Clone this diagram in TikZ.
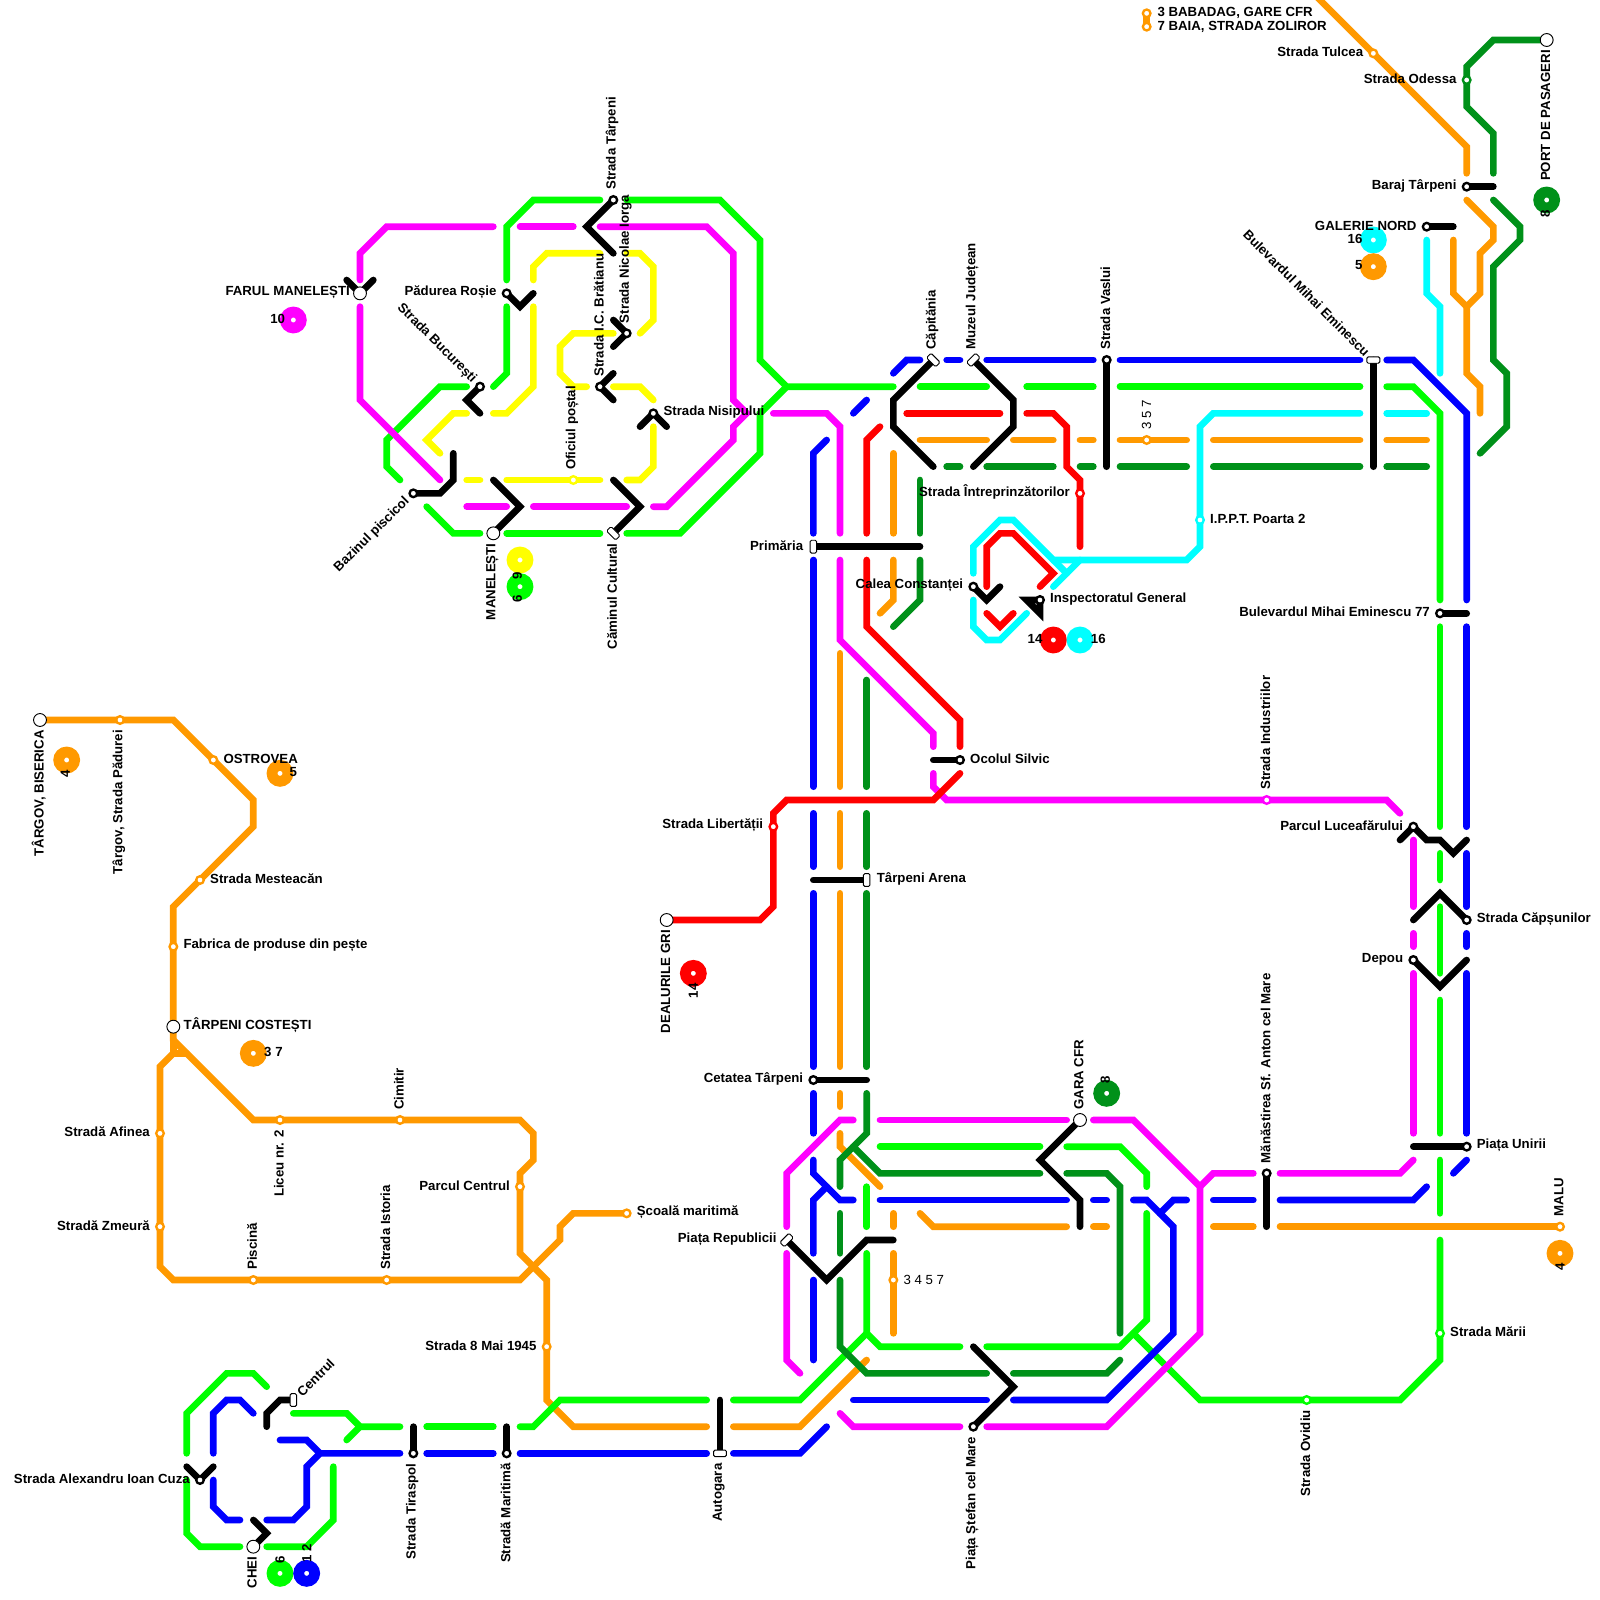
\documentclass[tikz,border=0pt]{standalone}
\usepackage{fontspec}
\setmainfont{Liberation Sans}
\usetikzlibrary{positioning}
\definecolor{lineOrange}{RGB}{255, 153, 0}
\definecolor{lineGreen}{RGB}{0, 255, 0}
\definecolor{lineForest}{RGB}{0, 145, 25}
\definecolor{lineMagenta}{RGB}{255, 0, 255}
\definecolor{lineCyan}{RGB}{0, 255, 255}
\definecolor{lineYellow}{RGB}{255, 255, 0}
\definecolor{lineBlue}{RGB}{0, 0, 255}
\definecolor{lineRed}{RGB}{255, 0, 0}
\pgfdeclarelayer{lines}
\pgfsetlayers{lines,main}

\begin{document}
\begin{tikzpicture}[
    x=0.4cm, y=-0.4cm,
    route/.style={line width=5.7pt, line cap=round, line join=miter, draw=#1},
    link/.style={route=black},
    stop/.style={circle, draw=#1, fill=white, line width=2pt, inner sep=0pt, minimum size=6.5pt},
    terminus/.style={circle, draw=black, fill=white, line width=0.8pt, inner sep=0pt, minimum size=11pt},
    gate/.style={rectangle, draw=black, fill=white, line width=0.8pt, rounded corners=1.2pt, inner sep=0pt, minimum width=11pt, minimum height=5.5pt},
    disc/.style={circle, draw=#1, fill=white, line width=9.2pt, inner sep=0pt, minimum size=13.6pt},
    txt/.style={font=\fontsize{11.3}{12.5}\selectfont\bfseries, inner sep=0pt, text=black},
    txtL/.style={txt, left=8.5pt of #1.center, yshift=1pt},
    txtR/.style={txt, right=8.5pt of #1.center, yshift=1pt},
    txtU/.style={txt, above=8.5pt of #1.center, anchor=west, xshift=-1pt, rotate=90},
    txtD/.style={txt, below=8.5pt of #1.center, anchor=east, xshift=-1pt, rotate=90},
    num/.style={txt, rotate=90},
    plain/.style={font=\fontsize{11.3}{12.5}\selectfont, inner sep=0pt}
]
\useasboundingbox (0,0) rectangle (120,120);

% Stations
\node[stop=lineOrange] (legendA) at (86,1) {};
\node[stop=lineOrange] (legendB) at (86,2) {};
\node[stop=lineOrange] (tulcea) at (103,4) {};
\node[stop=lineForest] (odessa) at (110,6) {};
\node[terminus] (portPas) at (116,3) {};
\node[stop=black] (baraj) at (110,14) {};
\node[stop=black] (galerie) at (107,17) {};
\node[gate] (bdEminescu) at (103,27) {};
\node[stop=black] (vaslui) at (83,27) {};
\node[gate, rotate=-45] (capitania) at (70,27) {};
\node[gate, rotate=45] (muzeul) at (73,27) {};
\node[stop=lineOrange] (stop357) at (86,33) {};
\node[stop=lineRed] (intrep) at (81,37) {};
\node[stop=lineCyan] (ippt) at (90,39) {};
\node[gate, rotate=90] (primaria) at (61,41) {};
\node[stop=black] (calea) at (73,44) {};
\node[stop=black] (inspect) at (78,45) {};
\node[stop=black] (em77) at (108,46) {};
\node[stop=black] (ocolul) at (72,57) {};
\node[stop=lineMagenta] (industrii) at (95,60) {};
\node[stop=black] (luceaf) at (106,62) {};
\node[stop=lineRed] (libertatii) at (58,62) {};
\node[gate, rotate=90] (arena) at (65,66) {};
\node[stop=black] (capsuni) at (110,69) {};
\node[terminus] (dealuri) at (50,69) {};
\node[stop=black] (depou) at (106,72) {};
\node[stop=black] (cetatea) at (61,81) {};
\node[terminus] (gara) at (81,84) {};
\node[stop=black] (unirii) at (110,86) {};
\node[stop=black] (manast) at (95,88) {};
\node[stop=lineOrange] (malu) at (117,92) {};
\node[gate, rotate=45] (republicii) at (59,93) {};
\node[stop=lineOrange] (stop3457) at (67,96) {};
\node[stop=lineGreen] (marii) at (108,100) {};
\node[stop=lineGreen] (ovidiu) at (98,105) {};
\node[stop=black] (stefan) at (73,107) {};
\node[gate] (autogara) at (54,109) {};
% north-west group
\node[stop=black] (tarpeni) at (46,15) {};
\node[terminus] (farul) at (27,22) {};
\node[stop=black] (padurea) at (38,22) {};
\node[stop=black] (iorga) at (47,25) {};
\node[stop=black] (bucuresti) at (36,29) {};
\node[stop=black] (bratianu) at (45,29) {};
\node[stop=black] (nisipului) at (49,31) {};
\node[stop=lineYellow] (oficiul) at (43,36) {};
\node[stop=black] (bazin) at (31,37) {};
\node[terminus] (manelesti) at (37,40) {};
\node[gate, rotate=-45] (caminul) at (46,40) {};
% west group
\node[terminus] (targov) at (3,54) {};
\node[stop=lineOrange] (padurei) at (9,54) {};
\node[stop=lineOrange] (ostrovea) at (16,57) {};
\node[stop=lineOrange] (mesteacan) at (15,66) {};
\node[stop=lineOrange] (fabrica) at (13,71) {};
\node[terminus] (costesti) at (13,77) {};
\node[stop=lineOrange] (liceu) at (21,84) {};
\node[stop=lineOrange] (cimitir) at (30,84) {};
\node[stop=lineOrange] (afinea) at (12,85) {};
\node[stop=lineOrange] (parcul) at (39,89) {};
\node[stop=lineOrange] (scoala) at (47,91) {};
\node[stop=lineOrange] (zmeura) at (12,92) {};
\node[stop=lineOrange] (piscina) at (19,96) {};
\node[stop=lineOrange] (istoria) at (29,96) {};
\node[stop=lineOrange] (mai1945) at (41,101) {};
% south-west group
\node[gate, rotate=90] (centrul) at (22,105) {};
\node[stop=black] (tiraspol) at (31,109) {};
\node[stop=black] (maritima) at (38,109) {};
\node[stop=black] (cuza) at (15,111) {};
\node[terminus] (chei) at (19,116) {};

% Line discs
\node[disc=lineMagenta] (disc10) at (22,24) {};
\node[disc=lineYellow] (disc9) at (39,42) {};
\node[disc=lineGreen] (disc6a) at (39,44) {};
\node[disc=lineForest] (disc8a) at (116,15) {};
\node[disc=lineCyan] (disc16a) at (103,18) {};
\node[disc=lineOrange] (disc5a) at (103,20) {};
\node[disc=lineRed] (disc14a) at (79,48) {};
\node[disc=lineCyan] (disc16b) at (81,48) {};
\node[disc=lineOrange] (disc4a) at (5,57) {};
\node[disc=lineOrange] (disc5b) at (21,58) {};
\node[disc=lineOrange] (disc37) at (19,79) {};
\node[disc=lineRed] (disc14b) at (52,73) {};
\node[disc=lineForest] (disc8b) at (83,82) {};
\node[disc=lineOrange] (disc4b) at (117,94) {};
\node[disc=lineGreen] (disc6b) at (21,118) {};
\node[disc=lineBlue] (disc12) at (23,118) {};

% Labels
\node[txt, anchor=west] (tLegA) at (86.8,1) {3 BABADAG, GARE CFR};
\node[txt, anchor=west] (tLegB) at (86.8,2) {7 BAIA, STRADA ZOLIROR};
\node[txtL=tulcea] (tTulcea) {Strada Tulcea};
\node[txtL=odessa] (tOdessa) {Strada Odessa};
\node[txtD=portPas] (tPort) {PORT DE PASAGERI};
\node[txtL=baraj] (tBaraj) {Baraj Târpeni};
\node[txtL=galerie] (tGalerie) {GALERIE NORD};
\node[txtU=vaslui] (tVaslui) {Strada Vaslui};
\node[txtU=capitania] (tCapitania) {Căpitănia};
\node[txtU=muzeul] (tMuzeul) {Muzeul Județean};
\node[plain, above=8.5pt of stop357.center, anchor=west, rotate=90] (t357) {3 5 7};
\node[txtL=intrep] (tIntrep) {Strada Întreprinzătorilor};
\node[txtR=ippt] (tIppt) {I.P.P.T. Poarta 2};
\node[txtL=primaria] (tPrimaria) {Primăria};
\node[txtL=calea] (tCalea) {Calea Constanței};
\node[txtR=inspect] (tInspect) {Inspectoratul General};
\node[txtL=em77] (tEm77) {Bulevardul Mihai Eminescu 77};
\node[txtR=ocolul] (tOcolul) {Ocolul Silvic};
\node[txtU=industrii] (tIndustrii) {Strada Industriilor};
\node[txtL=luceaf] (tLuceaf) {Parcul Luceafărului};
\node[txtL=libertatii] (tLibertatii) {Strada Libertății};
\node[txtR=arena] (tArena) {Târpeni Arena};
\node[txtR=capsuni] (tCapsuni) {Strada Căpșunilor};
\node[txtD=dealuri] (tDealuri) {DEALURILE GRI};
\node[txtL=depou] (tDepou) {Depou};
\node[txtL=cetatea] (tCetatea) {Cetatea Târpeni};
\node[txtU=gara] (tGara) {GARA CFR};
\node[txtR=unirii] (tUnirii) {Piața Unirii};
\node[txtU=manast] (tManast) {Mănăstirea Sf. Anton cel Mare};
\node[txtU=malu] (tMalu) {MALU};
\node[txtL=republicii] (tRepublicii) {Piața Republicii};
\node[plain, right=8.5pt of stop3457.center] (t3457) {3 4 5 7};
\node[txtR=marii] (tMarii) {Strada Mării};
\node[txtD=ovidiu] (tOvidiu) {Strada Ovidiu};
\node[txtD=stefan] (tStefan) {Piața Ștefan cel Mare};
\node[txtD=autogara] (tAutogara) {Autogara};
\node[txtU=tarpeni] (tTarpeni) {Strada Târpeni};
\node[txtL=farul] (tFarul) {FARUL MANELEȘTI};
\node[txtL=padurea] (tPadurea) {Pădurea Roșie};
\node[txtU=iorga] (tIorga) {Strada Nicolae Iorga};
\node[txtU=bratianu] (tBratianu) {Strada I.C. Brătianu};
\node[txtR=nisipului] (tNisipului) {Strada Nisipului};
\node[txtU=oficiul] (tOficiul) {Oficiul poștal};
\node[txtD=manelesti] (tManelesti) {MANELEȘTI};
\node[txtD=caminul] (tCaminul) {Căminul Cultural};
\node[txt, at=(bucuresti.center), xshift=-5pt, yshift=5pt, anchor=east, rotate=-45] (tBucuresti) {Strada București};
\node[txt, at=(bdEminescu.center), xshift=-5pt, yshift=5pt, anchor=east, rotate=-45] (tBdEminescu) {Bulevardul Mihai Eminescu};
\node[txt, at=(bazin.center), xshift=-5pt, yshift=-5pt, anchor=east, rotate=45] (tBazin) {Bazinul piscicol};
\node[txt, at=(centrul.center), xshift=5pt, yshift=5pt, anchor=west, rotate=45] (tCentrul) {Centrul};
\node[txtD=targov] (tTargov) {TÂRGOV, BISERICA};
\node[txtD=padurei] (tPadurei) {Târgov, Strada Pădurei};
\node[txtR=ostrovea] (tOstrovea) {OSTROVEA};
\node[txtR=mesteacan] (tMesteacan) {Strada Mesteacăn};
\node[txtR=fabrica] (tFabrica) {Fabrica de produse din pește};
\node[txtR=costesti] (tCostesti) {TÂRPENI COSTEȘTI};
\node[txtD=liceu] (tLiceu) {Liceu nr. 2};
\node[txtU=cimitir] (tCimitir) {Cimitir};
\node[txtL=afinea] (tAfinea) {Stradă Afinea};
\node[txtL=parcul] (tParcul) {Parcul Centrul};
\node[txtR=scoala] (tScoala) {Școală maritimă};
\node[txtL=zmeura] (tZmeura) {Stradă Zmeură};
\node[txtU=piscina] (tPiscina) {Piscină};
\node[txtU=istoria] (tIstoria) {Strada Istoria};
\node[txtL=mai1945] (tMai) {Strada 8 Mai 1945};
\node[txtD=tiraspol] (tTiraspol) {Strada Tiraspol};
\node[txtD=maritima] (tMaritima) {Stradă Maritimă};
\node[txtL=cuza] (tCuza) {Strada Alexandru Ioan Cuza};
\node[txtD=chei] (tChei) {CHEI};

% Line numbers
\node[txt, anchor=east] (n10) at (21.4,23.9) {10};
\node[num] (n9) at (38.8,43.2) {9};
\node[num] (n6a) at (38.8,44.9) {6};
\node[num] (n8a) at (115.9,16) {8};
\node[txt, anchor=east] (n16a) at (102.2,17.9) {16};
\node[txt, anchor=east] (n5a) at (102.2,19.9) {5};
\node[txt, anchor=east] (n14a) at (78.2,47.9) {14};
\node[txt, anchor=west] (n16b) at (81.8,47.9) {16};
\node[num] (n4a) at (4.9,58) {4};
\node[txt] (n5b) at (22,57.9) {5};
\node[txt, anchor=west] (n37) at (19.8,78.9) {3 7};
\node[num] (n14b) at (52,74.3) {14};
\node[num] (n8b) at (82.9,81) {8};
\node[num] (n4b) at (117,95) {4};
\node[num] (n6b) at (21,117) {6};
\node[num] (n12) at (23,116.5) {1 2};

\begin{pgfonlayer}{lines}
% Orange
\draw[route=lineOrange] (legendA.center) -- (legendB.center);
\draw[route=lineOrange] (98,-1) -- (110,11) -- (110,13);
\draw[route=lineOrange] (110,15) -- (112,17) -- (112,18) -- (111,19) -- (111,22) -- (110,23) -- (109,22) -- (109,18);
\draw[route=lineOrange] (110,23) -- (110,28) -- (111,29) -- (111,31);
\draw[route=lineOrange] (69,33) -- (74,33);
\draw[route=lineOrange] (76,33) -- (79,33);
\draw[route=lineOrange] (81,33) -- (82,33);
\draw[route=lineOrange] (84,33) -- (89,33);
\draw[route=lineOrange] (91,33) -- (102,33);
\draw[route=lineOrange] (104,33) -- (107,33);
\draw[route=lineOrange] (67,34) -- (67,40);
\draw[route=lineOrange] (67,42) -- (67,45) -- (66,46);
\draw[route=lineOrange] (63,49) -- (63,59);
\draw[route=lineOrange] (63,61) -- (63,65);
\draw[route=lineOrange] (63,67) -- (63,80);
\draw[route=lineOrange] (63,82) -- (63,83);
\draw[route=lineOrange] (63,85) -- (63,86) -- (66,89);
\draw[route=lineOrange] (67,91) -- (67,92);
\draw[route=lineOrange] (67,94) -- (67,100);
\draw[route=lineOrange] (69,91) -- (70,92) -- (80,92);
\draw[route=lineOrange] (82,92) -- (83,92);
\draw[route=lineOrange] (91,92) -- (94,92);
\draw[route=lineOrange] (96,92) -- (malu.center);
\draw[route=lineOrange] (targov.center) -- (13,54) -- (19,60) -- (19,62) -- (13,68) -- (13,78) -- (19,84) -- (39,84) -- (40,85) -- (40,87) -- (39,88) -- (39,94) -- (41,96) -- (41,105) -- (43,107) -- (53,107);
\draw[route=lineOrange] (13,78) -- (13,79) -- (14,79);
\draw[route=lineOrange] (13,79) -- (12,80) -- (12,95) -- (13,96) -- (39,96) -- (42,93) -- (42,92) -- (43,91) -- (scoala.center);
\draw[route=lineOrange] (55,107) -- (60,107) -- (65,102);
% Green
\draw[route=lineGreen] (38,21) -- (38,17) -- (40,15) -- (45,15);
\draw[route=lineGreen] (47,15) -- (54,15) -- (57,18) -- (57,27) -- (59,29) -- (67,29);
\draw[route=lineGreen] (59,29) -- (57,31) -- (57,34) -- (51,40) -- (47,40);
\draw[route=lineGreen] (45,40) -- (38,40);
\draw[route=lineGreen] (36,40) -- (34,40) -- (32,38);
\draw[route=lineGreen] (38,23) -- (38,28) -- (37,29);
\draw[route=lineGreen] (35,29) -- (33,29) -- (29,33) -- (29,35) -- (30,36);
\draw[route=lineGreen] (69,29) -- (74,29);
\draw[route=lineGreen] (77,29) -- (82,29);
\draw[route=lineGreen] (84,29) -- (102,29);
\draw[route=lineGreen] (104,29) -- (106,29) -- (108,31) -- (108,45);
\draw[route=lineGreen] (108,47) -- (108,62);
\draw[route=lineGreen] (108,64) -- (108,66);
\draw[route=lineGreen] (108,68) -- (108,73);
\draw[route=lineGreen] (108,75) -- (108,85);
\draw[route=lineGreen] (108,87) -- (108,91);
\draw[route=lineGreen] (108,93) -- (108,102) -- (105,105) -- (90,105) -- (85,100);
\draw[route=lineGreen] (86,91) -- (86,99) -- (84,101) -- (74,101);
\draw[route=lineGreen] (86,89) -- (86,88) -- (84,86) -- (80,86);
\draw[route=lineGreen] (78,86) -- (66,86);
\draw[route=lineGreen] (65,89) -- (65,92);
\draw[route=lineGreen] (65,94) -- (65,100) -- (66,101) -- (72,101);
\draw[route=lineGreen] (65,100) -- (60,105) -- (55,105);
\draw[route=lineGreen] (53,105) -- (42,105) -- (40,107) -- (39,107);
\draw[route=lineGreen] (37,107) -- (32,107);
\draw[route=lineGreen] (30,107) -- (27,107) -- (26,106) -- (22,106);
\draw[route=lineGreen] (27,107) -- (26,108);
\draw[route=lineGreen] (20,104) -- (19,103) -- (17,103) -- (14,106) -- (14,109);
\draw[route=lineGreen] (14,111) -- (14,115) -- (15,116) -- (18,116);
\draw[route=lineGreen] (20,116) -- (23,116) -- (25,114) -- (25,110);
% Forest green
\draw[route=lineForest] (portPas.center) -- (112,3) -- (110,5) -- (110,8) -- (112,10) -- (112,13);
\draw[route=lineForest] (112,15) -- (114,17) -- (114,18) -- (112,20) -- (112,27) -- (113,28) -- (113,32) -- (111,34);
\draw[route=lineForest] (71,35) -- (72,35);
\draw[route=lineForest] (74,35) -- (79,35);
\draw[route=lineForest] (81,35) -- (82,35);
\draw[route=lineForest] (84,35) -- (89,35);
\draw[route=lineForest] (91,35) -- (102,35);
\draw[route=lineForest] (104,35) -- (107,35);
\draw[route=lineForest] (69,36) -- (69,40);
\draw[route=lineForest] (69,42) -- (69,45) -- (67,47);
\draw[route=lineForest] (65,51) -- (65,59);
\draw[route=lineForest] (65,61) -- (65,65);
\draw[route=lineForest] (65,67) -- (65,80);
\draw[route=lineForest] (65,82) -- (65,85) -- (63,87) -- (63,89);
\draw[route=lineForest] (64,86) -- (66,88) -- (78,88);
\draw[route=lineForest] (80,88) -- (83,88) -- (84,89) -- (84,100);
\draw[route=lineForest] (63,91) -- (63,94);
\draw[route=lineForest] (63,96) -- (63,101) -- (65,103) -- (74,103);
\draw[route=lineForest] (76,103) -- (83,103) -- (84,102);
% Yellow
\draw[route=lineYellow] (40,21) -- (40,20) -- (41,19) -- (45,19);
\draw[route=lineYellow] (47,19) -- (48,19) -- (49,20) -- (49,24) -- (48,25);
\draw[route=lineYellow] (40,23) -- (40,29) -- (38,31) -- (37,31);
\draw[route=lineYellow] (35,31) -- (34,31) -- (32,33) -- (33,34);
\draw[route=lineYellow] (46,25) -- (43,25) -- (42,26) -- (42,28) -- (43,29) -- (44,29);
\draw[route=lineYellow] (46,29) -- (48,29) -- (49,30);
\draw[route=lineYellow] (49,32) -- (49,35) -- (48,36) -- (47,36);
\draw[route=lineYellow] (45,36) -- (38,36);
\draw[route=lineYellow] (36,36) -- (35,36);
% Cyan
\draw[route=lineCyan] (107,18) -- (107,22) -- (108,23) -- (108,28);
\draw[route=lineCyan] (104,31) -- (107,31);
\draw[route=lineCyan] (102,31) -- (91,31) -- (90,32) -- (90,41) -- (89,42) -- (79,42) -- (76,39) -- (75,39) -- (73,41) -- (73,43);
\draw[route=lineCyan] (79,42) -- (80,43);
\draw[route=lineCyan] (81,42) -- (79,44);
\draw[route=lineCyan] (73,45) -- (73,47) -- (74,48) -- (75,48) -- (77,46);
% Blue
\draw[route=lineBlue] (64,31) -- (65,30);
\draw[route=lineBlue] (67,28) -- (68,27) -- (69,27);
\draw[route=lineBlue] (71,27) -- (72,27);
\draw[route=lineBlue] (74,27) -- (82,27);
\draw[route=lineBlue] (84,27) -- (102,27);
\draw[route=lineBlue] (104,27) -- (106,27) -- (110,31) -- (110,45);
\draw[route=lineBlue] (110,47) -- (110,62);
\draw[route=lineBlue] (110,64) -- (110,68);
\draw[route=lineBlue] (110,70) -- (110,71);
\draw[route=lineBlue] (110,73) -- (110,85);
\draw[route=lineBlue] (110,87) -- (109,88);
\draw[route=lineBlue] (62,33) -- (61,34) -- (61,40);
\draw[route=lineBlue] (61,42) -- (61,59);
\draw[route=lineBlue] (61,61) -- (61,65);
\draw[route=lineBlue] (61,67) -- (61,80);
\draw[route=lineBlue] (61,82) -- (61,85);
\draw[route=lineBlue] (61,87) -- (61,88) -- (63,90) -- (64,90);
\draw[route=lineBlue] (62,89) -- (61,90) -- (61,94);
\draw[route=lineBlue] (61,96) -- (61,102);
\draw[route=lineBlue] (66,90) -- (80,90);
\draw[route=lineBlue] (82,90) -- (83,90);
\draw[route=lineBlue] (85,90) -- (86,90) -- (88,92) -- (88,100) -- (83,105) -- (76,105);
\draw[route=lineBlue] (74,105) -- (64,105);
\draw[route=lineBlue] (87,91) -- (88,90) -- (89,90);
\draw[route=lineBlue] (91,90) -- (94,90);
\draw[route=lineBlue] (96,90) -- (106,90) -- (107,89);
\draw[route=lineBlue] (19,106) -- (18,105) -- (17,105) -- (16,106) -- (16,109);
\draw[route=lineBlue] (16,111) -- (16,113) -- (17,114) -- (18,114);
\draw[route=lineBlue] (20,114) -- (22,114) -- (23,113) -- (23,110) -- (24,109) -- (30,109);
\draw[route=lineBlue] (24,109) -- (23,108) -- (21,108);
\draw[route=lineBlue] (32,109) -- (37,109);
\draw[route=lineBlue] (39,109) -- (53,109);
\draw[route=lineBlue] (55,109) -- (60,109) -- (62,107);
% Magenta
\draw[route=lineMagenta] (27,21) -- (27,19) -- (29,17) -- (37,17);
\draw[route=lineMagenta] (39,17) -- (43,17);
\draw[route=lineMagenta] (45,17) -- (53,17) -- (55,19) -- (55,30) -- (56,31) -- (55,32) -- (55,33) -- (50,38) -- (49,38);
\draw[route=lineMagenta] (47,38) -- (40,38);
\draw[route=lineMagenta] (38,38) -- (35,38);
\draw[route=lineMagenta] (27,23) -- (27,30) -- (33,36);
\draw[route=lineMagenta] (58,31) -- (62,31) -- (63,32) -- (63,40);
\draw[route=lineMagenta] (63,42) -- (63,48) -- (70,55) -- (70,56);
\draw[route=lineMagenta] (70,58) -- (70,59) -- (71,60) -- (104,60) -- (105,61);
\draw[route=lineMagenta] (106,63) -- (106,68);
\draw[route=lineMagenta] (106,70) -- (106,71);
\draw[route=lineMagenta] (106,73) -- (106,85);
\draw[route=lineMagenta] (106,87) -- (105,88) -- (96,88);
\draw[route=lineMagenta] (94,88) -- (91,88) -- (90,89);
\draw[route=lineMagenta] (59,92) -- (59,88) -- (63,84) -- (64,84);
\draw[route=lineMagenta] (66,84) -- (80,84);
\draw[route=lineMagenta] (82,84) -- (85,84) -- (90,89) -- (90,100) -- (83,107) -- (74,107);
\draw[route=lineMagenta] (72,107) -- (64,107) -- (63,106);
\draw[route=lineMagenta] (59,94) -- (59,102) -- (60,103);
% Red
\draw[route=lineRed] (68,31) -- (75,31);
\draw[route=lineRed] (77,31) -- (79,31) -- (80,32) -- (80,35) -- (81,36) -- (81,41);
\draw[route=lineRed] (66,32) -- (65,33) -- (65,40);
\draw[route=lineRed] (65,42) -- (65,47) -- (72,54) -- (72,56);
\draw[route=lineRed] (72,58) -- (70,60) -- (59,60) -- (58,61) -- (58,68) -- (57,69) -- (dealuri.center);
\draw[route=lineRed] (74,44) -- (74,41) -- (75,40) -- (76,40) -- (79,43) -- (78,44);
\draw[route=lineRed] (74,46) -- (75,47) -- (76,46);
% Links between lines
\draw[link] (baraj.center) -- (112,14);
\draw[link] (galerie.center) -- (109,17);
\draw[link] (bdEminescu.center) -- (103,35);
\draw[link] (vaslui.center) -- (83,35);
\draw[link] (capitania.center) -- (67,30) -- (67,32) -- (70,35);
\draw[link] (muzeul.center) -- (76,30) -- (76,32) -- (73,35);
\draw[link] (primaria.center) -- (69,41);
\draw[link] (calea.center) -- (74,45) -- (75,44);
\draw[link] (inspect.center) -- (77,45) -- (78,46) -- cycle;
\draw[link] (em77.center) -- (110,46);
\draw[link] (ocolul.center) -- (70,57);
\draw[link] (105,63) -- (luceaf.center) -- (107,63) -- (108,63) -- (109,64) -- (110,63);
\draw[link] (arena.center) -- (61,66);
\draw[link] (capsuni.center) -- (108,67) -- (106,69);
\draw[link] (depou.center) -- (108,74) -- (110,72);
\draw[link] (cetatea.center) -- (65,81);
\draw[link] (gara.center) -- (78,87) -- (81,90) -- (81,92);
\draw[link] (unirii.center) -- (106,86);
\draw[link] (manast.center) -- (95,92);
\draw[link] (republicii.center) -- (62,96) -- (65,93) -- (67,93);
\draw[link] (stefan.center) -- (76,104) -- (73,101);
\draw[link] (autogara.center) -- (54,105);
\draw[link] (tarpeni.center) -- (44,17) -- (46,19);
\draw[link] (26,21) -- (farul.center) -- (28,21);
\draw[link] (padurea.center) -- (39,23) -- (40,22);
\draw[link] (iorga.center) -- (46,24);
\draw[link] (iorga.center) -- (46,26);
\draw[link] (bucuresti.center) -- (35,30) -- (36,31);
\draw[link] (bratianu.center) -- (46,28);
\draw[link] (bratianu.center) -- (46,30);
\draw[link] (nisipului.center) -- (48,32);
\draw[link] (nisipului.center) -- (50,32);
\draw[link] (bazin.center) -- (33,37) -- (34,36) -- (34,34);
\draw[link] (manelesti.center) -- (39,38) -- (37,36);
\draw[link] (caminul.center) -- (48,38) -- (46,36);
\draw[link] (centrul.center) -- (21,105) -- (20,106) -- (20,107);
\draw[link] (tiraspol.center) -- (31,107);
\draw[link] (maritima.center) -- (38,107);
\draw[link] (14,110) -- (cuza.center) -- (16,110);
\draw[link] (chei.center) -- (20,115) -- (19,114);
\end{pgfonlayer}
\end{tikzpicture}
\end{document}
